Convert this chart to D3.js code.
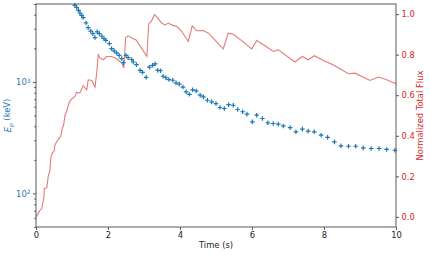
<!DOCTYPE html>
<html>
<head>
<meta charset="utf-8">
<script src="https://cdn.jsdelivr.net/npm/d3@7"></script>
<style>
  body { margin: 0; background: #fff; }
  svg text { font-family: "DejaVu Sans", sans-serif; }
</style>
</head>
<body>
<div id="chart"></div>
<script>
// Peak energy (blue "+" markers)
const epTime = [1.08, 1.13, 1.18, 1.22, 1.27, 1.31, 1.39, 1.45, 1.52, 1.58, 1.64, 1.70, 1.76, 1.83, 1.89, 1.94,
  2.04, 2.10, 2.17, 2.24, 2.31, 2.38, 2.43, 2.50, 2.56, 2.66, 2.70, 2.79, 2.89, 2.96, 3.06, 3.15, 3.24, 3.31,
  3.38, 3.46, 3.53, 3.61, 3.69, 3.80, 3.89, 3.98, 4.08, 4.17, 4.26, 4.35, 4.45, 4.56, 4.65, 4.76, 4.88, 5.00,
  5.11, 5.23, 5.35, 5.48, 5.60, 5.74, 5.86, 6.01, 6.13, 6.29, 6.44, 6.59, 6.73, 6.87, 7.06, 7.22, 7.40, 7.56,
  7.73, 7.92, 8.10, 8.29, 8.47, 8.68, 8.88, 9.09, 9.31, 9.53, 9.74, 9.97];
const epValue = [4860, 4650, 4390, 4150, 3960, 3780, 3380, 3070, 2860, 2710, 2500, 2810, 2710, 2570, 2450, 2360,
  2210, 1990, 1900, 1820, 1730, 1620, 1490, 1730, 1650, 1590, 1510, 1430, 1270, 1220, 1100, 1355, 1410, 1455,
  1270, 1260, 1125, 1090, 1050, 1035, 980, 955, 900, 815, 775, 850, 830, 760, 735, 685, 662, 640,
  590, 578, 625, 618, 566, 540, 514, 438, 503, 470, 430, 424, 418, 403, 389, 357, 377, 362,
  357, 333, 318, 290, 267, 265, 265, 256, 253, 253, 248, 244];

// Normalized total flux (red line)
const fluxTime = [0, 0.04, 0.11, 0.16, 0.19, 0.22, 0.23, 0.30, 0.34, 0.39, 0.41, 0.46, 0.50, 0.53, 0.58, 0.65,
  0.69, 0.73, 0.76, 0.81, 0.85, 0.93, 0.99, 1.08, 1.13, 1.22, 1.31, 1.36, 1.41, 1.45, 1.55, 1.64, 1.69, 1.73,
  1.78, 1.87, 1.96, 2.10, 2.24, 2.38, 2.44, 2.49, 2.56, 2.66, 2.78, 3.08, 3.13, 3.21, 3.29, 3.35, 3.49, 3.58,
  3.68, 3.77, 3.91, 4.05, 4.23, 4.34, 4.46, 4.65, 4.79, 4.97, 5.20, 5.34, 5.48, 5.72, 5.99, 6.13, 6.36, 6.59,
  6.73, 7.19, 7.40, 7.56, 7.73, 7.94, 8.26, 8.68, 8.86, 9.28, 9.51, 9.69, 10.0];
const fluxValue = [0.00, 0.011, 0.033, 0.041, 0.070, 0.095, 0.139, 0.144, 0.200, 0.232, 0.292, 0.317, 0.323, 0.356, 0.372, 0.391,
  0.397, 0.440, 0.446, 0.504, 0.520, 0.569, 0.581, 0.594, 0.614, 0.611, 0.647, 0.636, 0.627, 0.676, 0.673, 0.640, 0.717, 0.800,
  0.783, 0.775, 0.791, 0.791, 0.780, 0.759, 0.734, 0.882, 0.893, 0.882, 0.873, 0.792, 0.952, 0.967, 0.997, 0.988, 0.956, 0.947,
  0.956, 0.947, 0.939, 0.914, 0.865, 0.942, 0.918, 0.919, 0.906, 0.873, 0.828, 0.906, 0.901, 0.868, 0.828, 0.870, 0.844, 0.816,
  0.824, 0.764, 0.791, 0.775, 0.795, 0.775, 0.749, 0.706, 0.709, 0.673, 0.690, 0.680, 0.657];

const xTicks = [0, 2, 4, 6, 8, 10];
const fluxTicks = [0.0, 0.2, 0.4, 0.6, 0.8, 1.0];
const epMajorTicks = [100, 1000];

const blue = "#1f77b4";
const red = "#d62728";
const fs = 8.4;

const W = 430, H = 255;
const margin = { top: 4, right: 34, bottom: 28, left: 36 };
const width = W - margin.left - margin.right,
  height = H - margin.top - margin.bottom;

const svg = d3.select("#chart").append("svg")
  .attr("width", W)
  .attr("height", H);

const g = svg.append("g")
  .attr("transform", `translate(${margin.left},${margin.top})`);

const x = d3.scaleLinear().domain([0, 10]).range([0, width]);
const yEp = d3.scaleLog().domain([50, 5000]).range([height, 0]);
const yFlux = d3.scaleLinear().domain([-0.05, 1.05]).range([height, 0]);

// minor ticks for the log axis
const epMinor = yEp.ticks().filter((d) => !epMajorTicks.includes(d));

function styleAxis(sel, color) {
  sel.select(".domain").remove();
  sel.selectAll(".tick line").attr("stroke", "#333").attr("stroke-width", 0.8);
  sel.selectAll(".tick text")
    .attr("fill", color)
    .style("font-size", fs + "px");
}

// bottom axis
const xAxis = g.append("g")
  .attr("transform", `translate(0,${height})`)
  .call(d3.axisBottom(x).tickValues(xTicks).tickSize(3).tickPadding(2.5).tickFormat(d3.format("d")));
styleAxis(xAxis, "#222");

// left log axis, minor ticks
const leftMinor = g.append("g")
  .call(d3.axisLeft(yEp).tickValues(epMinor).tickSize(1.8).tickFormat(""));
styleAxis(leftMinor, blue);

// left log axis, major ticks with superscripts
const leftAxis = g.append("g")
  .call(d3.axisLeft(yEp).tickValues(epMajorTicks).tickSize(3).tickPadding(2.5).tickFormat(""));
styleAxis(leftAxis, blue);
leftAxis.selectAll(".tick text")
  .attr("dy", "0.35em")
  .each(function (d) {
    const t = d3.select(this);
    t.append("tspan").text("10");
    t.append("tspan")
      .attr("dy", "-0.45em")
      .style("font-size", (fs * 0.7) + "px")
      .text(Math.round(Math.log10(d)));
  });

// right flux axis
const rightAxis = g.append("g")
  .attr("transform", `translate(${width},0)`)
  .call(d3.axisRight(yFlux).tickValues(fluxTicks).tickSize(3).tickPadding(2.5).tickFormat(d3.format(".1f")));
styleAxis(rightAxis, red);

// flux line
const fluxData = fluxTime.map((t, i) => ({ t: t, v: fluxValue[i] }));
const line = d3.line()
  .x((d) => x(d.t))
  .y((d) => yFlux(d.v));

g.append("path")
  .datum(fluxData)
  .attr("d", line)
  .attr("fill", "none")
  .attr("stroke", red)
  .attr("stroke-opacity", 0.62)
  .attr("stroke-width", 1.1);

// Ep markers
const epData = epTime.map((t, i) => ({ t: t, v: epValue[i] }));
g.selectAll(".ep")
  .data(epData)
  .join("path")
  .attr("class", "ep")
  .attr("transform", (d) => `translate(${x(d.t)},${yEp(d.v)})`)
  .attr("d", "M-2.3,0H2.3M0,-2.3V2.3")
  .attr("stroke", blue)
  .attr("stroke-width", 1.2)
  .attr("fill", "none");

// frame
g.append("rect")
  .attr("width", width)
  .attr("height", height)
  .attr("fill", "none")
  .attr("stroke", "#333")
  .attr("stroke-width", 0.8);

// axis labels
svg.append("text")
  .attr("x", margin.left + width / 2)
  .attr("y", 248)
  .attr("text-anchor", "middle")
  .style("font-size", fs + "px")
  .attr("fill", "#222")
  .text("Time (s)");

const leftLabel = svg.append("text")
  .attr("transform", `translate(11,${margin.top + height / 2}) rotate(-90)`)
  .attr("text-anchor", "middle")
  .style("font-size", fs + "px")
  .attr("fill", blue);
leftLabel.append("tspan").style("font-style", "italic").text("E");
leftLabel.append("tspan").attr("dy", "0.3em").style("font-size", (fs * 0.7) + "px").style("font-style", "italic").text("p");
leftLabel.append("tspan").attr("dy", "-0.3em").text(" (keV)");

svg.append("text")
  .attr("transform", `translate(423,${margin.top + height / 2}) rotate(-90)`)
  .attr("text-anchor", "middle")
  .style("font-size", fs + "px")
  .attr("fill", red)
  .text("Normalized Total Flux");
</script>
</body>
</html>
